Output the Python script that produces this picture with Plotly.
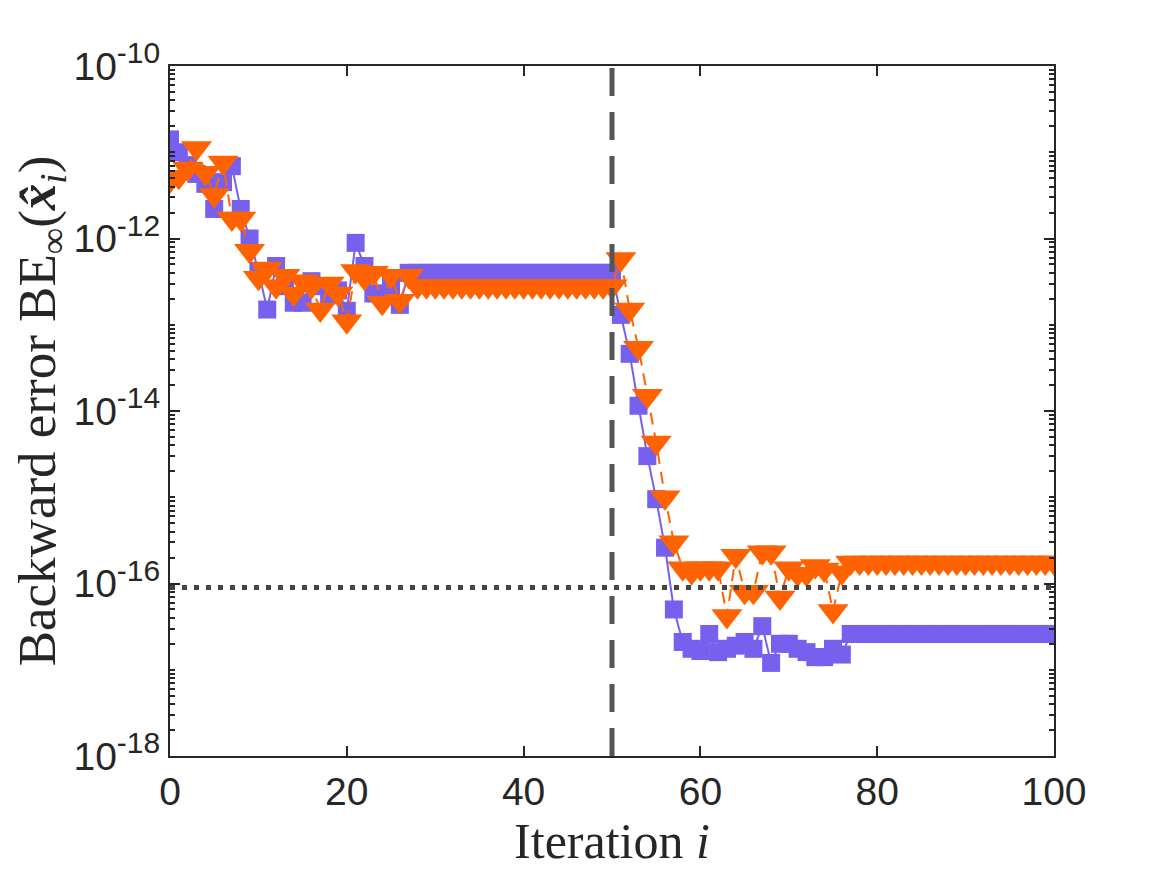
import plotly.graph_objects as go

# iteration index and backward errors
iterations = list(range(101))

be_blue = [
    1.41e-11, 1.0e-11, 7.1e-12, 5.6e-12, 4.3e-12, 2.2e-12, 4.5e-12, 6.9e-12, 2.2e-12, 1.0e-12,
    4.2e-13, 1.5e-13, 4.8e-13, 2.8e-13, 1.8e-13, 1.8e-13, 3.2e-13, 2.8e-13, 2.2e-13, 2.5e-13,
    1.45e-13, 8.9e-13, 4.8e-13, 2.3e-13, 2.3e-13, 2.8e-13, 1.7e-13, 4.0e-13, 4.0e-13, 4.0e-13,
    4.0e-13, 4.0e-13, 4.0e-13, 4.0e-13, 4.0e-13, 4.0e-13, 4.0e-13, 4.0e-13, 4.0e-13, 4.0e-13,
    4.0e-13, 4.0e-13, 4.0e-13, 4.0e-13, 4.0e-13, 4.0e-13, 4.0e-13, 4.0e-13, 4.0e-13, 4.0e-13,
    4.0e-13, 1.3e-13, 4.6e-14, 1.15e-14, 3.0e-15, 9.5e-16, 2.6e-16, 5.0e-17, 2.1e-17, 1.75e-17,
    1.65e-17, 2.6e-17, 1.6e-17, 1.75e-17, 1.9e-17, 2.1e-17, 1.75e-17, 3.2e-17, 1.2e-17, 2.0e-17,
    2.0e-17, 1.75e-17, 1.6e-17, 1.4e-17, 1.4e-17, 1.75e-17, 1.5e-17, 2.6e-17, 2.6e-17, 2.6e-17,
    2.6e-17, 2.6e-17, 2.6e-17, 2.6e-17, 2.6e-17, 2.6e-17, 2.6e-17, 2.6e-17, 2.6e-17, 2.6e-17,
    2.6e-17, 2.6e-17, 2.6e-17, 2.6e-17, 2.6e-17, 2.6e-17, 2.6e-17, 2.6e-17, 2.6e-17, 2.6e-17,
    2.6e-17,
]

be_orange = [
    4.7e-12, 5.2e-12, 6.5e-12, 1.12e-11, 5.8e-12, 3.2e-12, 7.6e-12, 1.7e-12, 1.7e-12, 7.2e-13,
    3.5e-13, 4.5e-13, 2.8e-13, 3.7e-13, 2.3e-13, 3.2e-13, 2.8e-13, 1.5e-13, 3.0e-13, 2.3e-13,
    1.1e-13, 4.2e-13, 3.5e-13, 4.0e-13, 1.8e-13, 3.7e-13, 1.9e-13, 3.7e-13, 2.8e-13, 2.8e-13,
    2.8e-13, 2.8e-13, 2.8e-13, 2.8e-13, 2.8e-13, 2.8e-13, 2.8e-13, 2.8e-13, 2.8e-13, 2.8e-13,
    2.8e-13, 2.8e-13, 2.8e-13, 2.8e-13, 2.8e-13, 2.8e-13, 2.8e-13, 2.8e-13, 2.8e-13, 2.8e-13,
    2.8e-13, 5.8e-13, 1.5e-13, 5.4e-14, 1.5e-14, 4.3e-15, 1.0e-15, 3.0e-16, 1.5e-16, 1.35e-16,
    1.5e-16, 1.5e-16, 1.5e-16, 4.2e-17, 2.1e-16, 8.0e-17, 8.0e-17, 2.3e-16, 2.3e-16, 6.9e-17,
    1.5e-16, 1.3e-16, 1.3e-16, 1.6e-16, 1.45e-16, 4.8e-17, 1.35e-16, 1.75e-16, 1.75e-16, 1.75e-16,
    1.75e-16, 1.75e-16, 1.75e-16, 1.75e-16, 1.75e-16, 1.75e-16, 1.75e-16, 1.75e-16, 1.75e-16, 1.75e-16,
    1.75e-16, 1.75e-16, 1.75e-16, 1.75e-16, 1.75e-16, 1.75e-16, 1.75e-16, 1.75e-16, 1.75e-16, 1.75e-16,
    1.75e-16,
]

switch_iteration = 50
unit_roundoff = 9e-17

x_ticks = [0, 20, 40, 60, 80, 100]
y_ticks = [1e-18, 1e-16, 1e-14, 1e-12, 1e-10]
y_exponents = ["-18", "-16", "-14", "-12", "-10"]

BLUE = "#7860ee"
ORANGE = "#ff6200"
AXIS = "#262626"
TICK_FONT = dict(family="Liberation Sans, Arial, sans-serif", size=39, color=AXIS)
XTITLE_FONT = dict(family="Liberation Serif, Times New Roman, serif", size=50, color=AXIS)
YTITLE_FONT = dict(family="Liberation Serif, Times New Roman, serif", size=53, color=AXIS)

y_ticktext = ["10<sup><span style='font-size:30px'>%s</span></sup>" % e for e in y_exponents]

fig = go.Figure()

fig.add_trace(go.Scatter(
    x=iterations, y=be_blue, mode="lines+markers",
    line=dict(color=BLUE, width=2),
    marker=dict(symbol="square", size=18, color=BLUE),
    showlegend=False,
))
fig.add_trace(go.Scatter(
    x=iterations, y=be_orange, mode="lines+markers",
    line=dict(color=ORANGE, width=2, dash="12px,8px"),
    marker=dict(symbol="triangle-down", size=27, color=ORANGE),
    showlegend=False,
))

fig.add_vline(x=switch_iteration, line=dict(color="#555555", width=5, dash="28px,16px"),
              layer="above")
fig.add_hline(y=unit_roundoff, line=dict(color="#444444", width=5, dash="5px,7px"),
              layer="above")

fig.update_xaxes(
    range=[0, 100], tickvals=x_ticks, ticks="inside", ticklen=10, tickwidth=1.5,
    tickcolor=AXIS, showline=True, linecolor=AXIS, linewidth=2, mirror="ticks",
    showgrid=False, zeroline=False, tickfont=TICK_FONT,
    title=dict(text="Iteration <i>i</i>", font=XTITLE_FONT, standoff=2),
)
fig.update_yaxes(
    type="log", range=[-18, -10], tickvals=y_ticks, ticktext=y_ticktext,
    ticks="inside", ticklen=10, tickwidth=1.5, tickcolor=AXIS,
    minor=dict(ticks="inside", ticklen=5, dtick="D1", tickcolor=AXIS, showgrid=False),
    showline=True, linecolor=AXIS, linewidth=2, mirror="ticks",
    showgrid=False, zeroline=False, tickfont=TICK_FONT,
    title=dict(
        text="Backward error BE<sub>∞</sub>(<b><i>x̂</i></b><sub><i>i</i></sub>)",
        font=YTITLE_FONT, standoff=8,
    ),
)

fig.update_layout(
    width=1167, height=875,
    margin=dict(l=162, r=121, t=58, b=127, autoexpand=False),
    plot_bgcolor="white", paper_bgcolor="white",
)

fig.write_html("out.html")
